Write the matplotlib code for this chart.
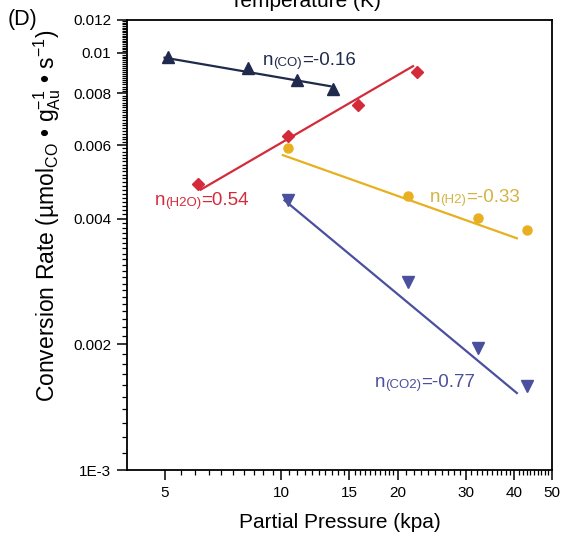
import numpy as np
import matplotlib.pyplot as plt
from matplotlib.ticker import FixedLocator, FixedFormatter, NullFormatter

plt.rcParams['font.family'] = ['Liberation Sans', 'DejaVu Sans']
plt.rcParams['mathtext.fontset'] = 'custom'
plt.rcParams['mathtext.rm'] = 'Liberation Sans'

# 分压 (kPa) 与转化速率数据
co_p = [5.1, 8.2, 11.0, 13.6]
co_rate = [0.0098, 0.0092, 0.0086, 0.0082]
h2o_p = [6.1, 10.4, 15.8, 22.4]
h2o_rate = [0.00485, 0.00632, 0.0075, 0.0090]
h2_p = [10.4, 21.2, 32.2, 43.1]
h2_rate = [0.00592, 0.00454, 0.00402, 0.00376]
co2_p = [10.4, 21.2, 32.2, 43.1]
co2_rate = [0.00444, 0.00282, 0.00196, 0.00159]

# 幂律拟合 rate = k * p^n：反应级数 n、前因子 k 及拟合线范围
n_co, n_h2o, n_h2, n_co2 = -0.16, 0.54, -0.33, -0.77
k_co, k_h2o, k_h2, k_co2 = 0.0126, 0.001755, 0.0122, 0.0265
co_range = [5.0, 13.4]
h2o_range = [6.2, 21.9]
h2_range = [10.1, 40.6]
co2_range = [10.2, 40.6]

x_ticks = [5, 10, 15, 20, 30, 40, 50]
y_ticks = [0.001, 0.002, 0.004, 0.006, 0.008, 0.01, 0.012]
y_labels = ['1E-3', '0.002', '0.004', '0.006', '0.008', '0.01', '0.012']

c_co = '#1f2a4c'
c_h2o = '#d42b3b'
c_h2 = '#e8b020'
c_h2_txt = '#d4b441'
c_co2 = '#4a4f9e'

fig = plt.figure(figsize=(5.62, 5.36), dpi=100)
ax = fig.add_axes([0.226, 0.123, 0.756, 0.840])
ax.set_xscale('log')
ax.set_yscale('log')

for px, rate, n, k, rng, c, m, ms in [
        (co_p, co_rate, n_co, k_co, co_range, c_co, '^', 8.5),
        (h2o_p, h2o_rate, n_h2o, k_h2o, h2o_range, c_h2o, 'D', 6),
        (h2_p, h2_rate, n_h2, k_h2, h2_range, c_h2, 'o', 6.5),
        (co2_p, co2_rate, n_co2, k_co2, co2_range, c_co2, 'v', 8)]:
    xs = np.array(rng)
    ax.plot(xs, k * xs ** n, '-', color=c, lw=1.6)
    ax.plot(px, rate, m, color=c, ms=ms, mec=c)

ax.set_xlim(4, 50)
ax.set_ylim(0.001, 0.012)

# 坐标刻度
ax.xaxis.set_major_locator(FixedLocator(x_ticks))
ax.xaxis.set_major_formatter(FixedFormatter([str(v) for v in x_ticks]))
x_minor = list(np.arange(5, 20, 0.5)) + list(np.arange(20, 50, 1.0))
ax.xaxis.set_minor_locator(FixedLocator(x_minor))
ax.xaxis.set_minor_formatter(NullFormatter())
ax.yaxis.set_major_locator(FixedLocator(y_ticks))
ax.yaxis.set_major_formatter(FixedFormatter(y_labels))
ax.yaxis.set_minor_locator(FixedLocator(np.arange(0.001, 0.0121, 0.0001)))
ax.yaxis.set_minor_formatter(NullFormatter())
ax.tick_params(which='major', direction='out', length=7.5, width=1.1, labelsize=11, pad=4)
ax.tick_params(which='minor', direction='out', length=3.5, width=0.9)
for s in ax.spines.values():
    s.set_linewidth(1.3)

ax.set_xlabel('Partial Pressure (kpa)', fontsize=15, labelpad=9)
fig.text(47 / 562, 1 - 216 / 536,
         r'Conversion Rate (µmol$_{\mathregular{CO}}$ • g$_{\mathregular{Au}}^{\mathregular{-1}}$ • s$^{\mathregular{-1}}$)',
         rotation=90, ha='center', va='center', fontsize=16.5)
fig.text(8 / 562, 1 - 20 / 536, '(D)', fontsize=15.5, va='center')
fig.text(305 / 562, 1 - 7 / 536, 'Temperature (K)', fontsize=15, ha='center', va='baseline')


# 反应级数标注：n + 小号下标 + 数值
def order_label(x, y, sub, val, c):
    t1 = ax.text(x, y, 'n', color=c, fontsize=13.5, va='baseline')
    t2 = ax.annotate(sub, xy=(1, 0), xycoords=t1, color=c, fontsize=9.5, va='bottom')
    ax.annotate(val, xy=(1, 0), xycoords=t2, color=c, fontsize=13.5, va='bottom')


order_label(8.96, 0.00936, '(CO)', '=' + str(n_co), c_co)
order_label(4.71, 0.00432, '(H2O)', '=' + str(n_h2o), c_h2o)
order_label(24.2, 0.00439, '(H2)', '=' + str(n_h2), c_h2_txt)
order_label(17.4, 0.00158, '(CO2)', '=' + str(n_co2), c_co2)

plt.savefig('out.png', dpi=100)
